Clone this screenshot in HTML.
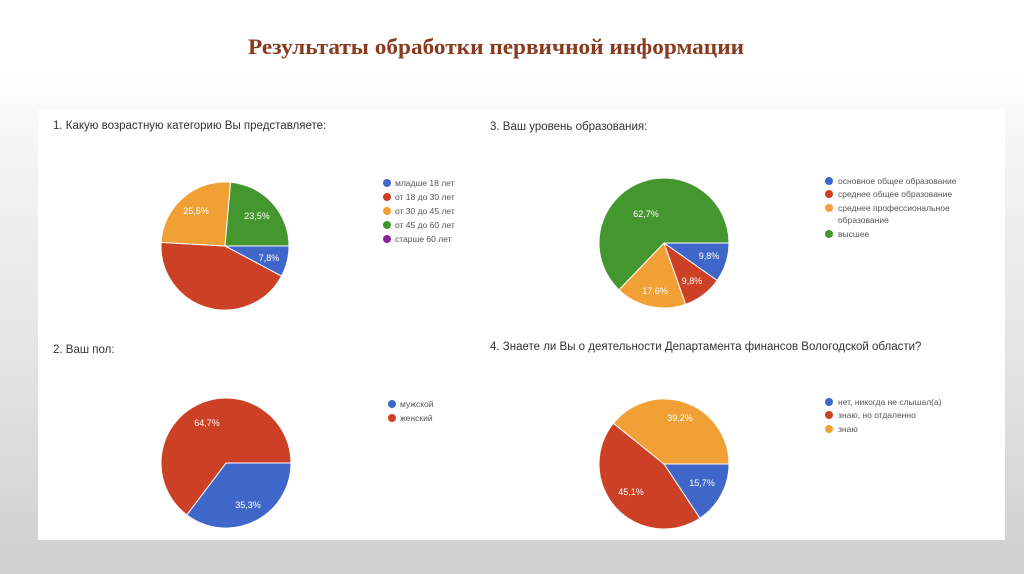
<!DOCTYPE html>
<html><head><meta charset="utf-8"><style>
html,body{margin:0;padding:0;}
body{width:1024px;height:574px;overflow:hidden;background:linear-gradient(#ffffff 0px,#ffffff 70px,#f4f4f4 150px,#e2e2e2 380px,#cfcfcf 574px);}
</style></head><body>
<svg width="1024" height="574" viewBox="0 0 1024 574" xmlns="http://www.w3.org/2000/svg" style="position:absolute;left:0;top:0">
<text x="496" y="54" text-anchor="middle" font-family="Liberation Serif, serif" font-weight="bold" font-size="22" fill="#8a3a1e" textLength="496" lengthAdjust="spacingAndGlyphs">Результаты обработки первичной информации</text>
<rect x="38" y="110" width="967" height="430" fill="#ffffff"/>
<g font-family="Liberation Sans, sans-serif" font-size="11.5" fill="#333">
<text x="53" y="129">1. Какую возрастную категорию Вы представляете:</text>
<text x="490" y="130">3. Ваш уровень образования:</text>
<text x="53" y="353">2. Ваш пол:</text>
<text x="490" y="350">4. Знаете ли Вы о деятельности Департамента финансов Вологодской области?</text>
</g>
<g stroke="#fff" stroke-width="1">
<path d="M225,246 L289,246 A64,64 0 0 1 281.5,276.1 Z" fill="#3f67c9"/>
<path d="M225,246 L281.5,276.1 A64,64 0 0 1 161.1,242.4 Z" fill="#cc4125"/>
<path d="M225,246 L161.1,242.4 A64,64 0 0 1 230.6,182.2 Z" fill="#f0a035"/>
<path d="M225,246 L230.6,182.2 A64,64 0 0 1 289,246 Z" fill="#44962e"/>
<path d="M664,243 L729,243 A65,65 0 0 1 717.1,280.5 Z" fill="#3f67c9"/>
<path d="M664,243 L717.1,280.5 A65,65 0 0 1 685.6,304.3 Z" fill="#cc4125"/>
<path d="M664,243 L685.6,304.3 A65,65 0 0 1 618.9,289.8 Z" fill="#f0a035"/>
<path d="M664,243 L618.9,289.8 A65,65 0 1 1 729,243 Z" fill="#44962e"/>
<path d="M226,463 L291,463 A65,65 0 0 1 186.8,514.9 Z" fill="#3f67c9"/>
<path d="M226,463 L186.8,514.9 A65,65 0 1 1 291,463 Z" fill="#cc4125"/>
<path d="M664,464 L729,464 A65,65 0 0 1 699.9,518.2 Z" fill="#3f67c9"/>
<path d="M664,464 L699.9,518.2 A65,65 0 0 1 613.4,423.2 Z" fill="#cc4125"/>
<path d="M664,464 L613.4,423.2 A65,65 0 0 1 729,464 Z" fill="#f0a035"/>
</g>
<g font-family="Liberation Sans, sans-serif" font-size="9" fill="#fff" text-anchor="middle">
<text x="196" y="214">25,5%</text><text x="257" y="219">23,5%</text><text x="269" y="261">7,8%</text><text x="212" y="324">43,1%</text>
<text x="646" y="217">62,7%</text><text x="709" y="259">9,8%</text><text x="692" y="284">9,8%</text><text x="655" y="294">17,6%</text>
<text x="207" y="426">64,7%</text><text x="248" y="508">35,3%</text>
<text x="680" y="421">39,2%</text><text x="631" y="495">45,1%</text><text x="702" y="486">15,7%</text>
</g>
<g font-family="Liberation Sans, sans-serif" font-size="8.5" fill="#555">
<circle cx="387" cy="183" r="4" fill="#3f67c9"/><text x="395" y="186">младше 18 лет</text>
<circle cx="387" cy="197" r="4" fill="#cc4125"/><text x="395" y="200">от 18 до 30 лет</text>
<circle cx="387" cy="211" r="4" fill="#f0a035"/><text x="395" y="214">от 30 до 45 лет</text>
<circle cx="387" cy="225" r="4" fill="#44962e"/><text x="395" y="228">от 45 до 60 лет</text>
<circle cx="387" cy="239" r="4" fill="#8e1d9a"/><text x="395" y="242">старше 60 лет</text>
<circle cx="829" cy="181" r="4" fill="#3f67c9"/><text x="838" y="184">основное общее образование</text>
<circle cx="829" cy="194" r="4" fill="#cc4125"/><text x="838" y="197">среднее общее образование</text>
<circle cx="829" cy="208" r="4" fill="#f0a035"/><text x="838" y="211">среднее профессиональное</text><text x="838" y="223">образование</text>
<circle cx="829" cy="234" r="4" fill="#44962e"/><text x="838" y="237">высшее</text>
<circle cx="392" cy="404" r="4" fill="#3f67c9"/><text x="400" y="407">мужской</text>
<circle cx="392" cy="418" r="4" fill="#cc4125"/><text x="400" y="421">женский</text>
<circle cx="829" cy="402" r="4" fill="#3f67c9"/><text x="838" y="405">нет, никогда не слышал(а)</text>
<circle cx="829" cy="415" r="4" fill="#cc4125"/><text x="838" y="418">знаю, но отдаленно</text>
<circle cx="829" cy="429" r="4" fill="#f0a035"/><text x="838" y="432">знаю</text>
</g>
</svg>
</body></html>
